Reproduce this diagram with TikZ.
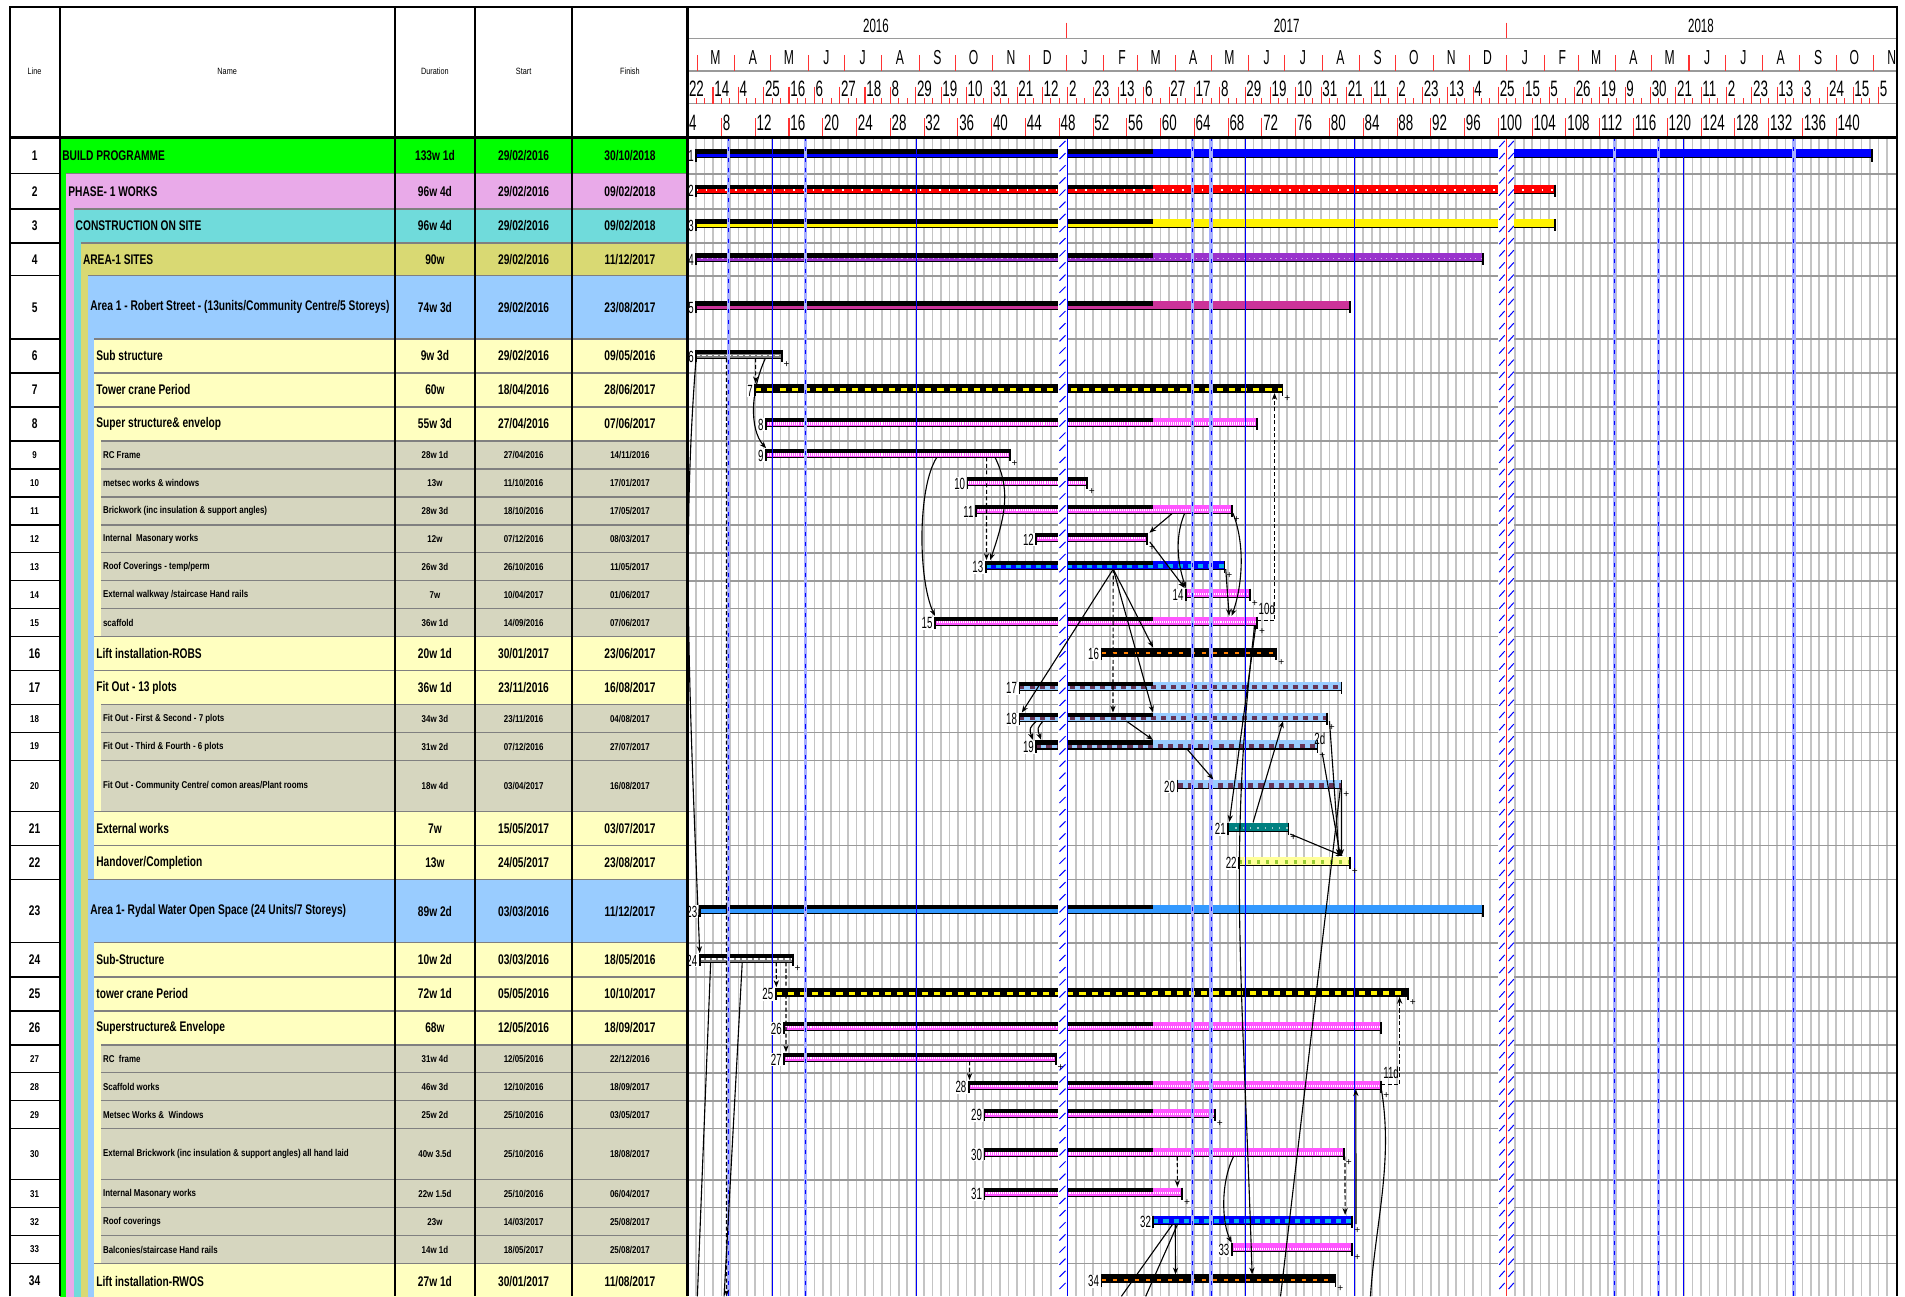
\documentclass[tikz,border=0pt]{standalone}
\usepackage{fontspec}
\setmainfont{Liberation Sans}
\newfontfamily\tblfont{Liberation Sans}[FakeStretch=0.8]
\newfontfamily\rowfont{Liberation Sans}[FakeStretch=0.73]
\newfontfamily\chfont{Liberation Sans}[FakeStretch=0.6]
\usetikzlibrary{arrows.meta,calc}

\definecolor{lv0}{HTML}{00FF00}
\definecolor{lv1}{HTML}{E9AAE9}
\definecolor{lv2}{HTML}{70DBDB}
\definecolor{lv3}{HTML}{D9D973}
\definecolor{lv4}{HTML}{99CCFF}
\definecolor{lv5}{HTML}{FFFFC0}
\definecolor{lv6}{HTML}{D6D6BF}
\definecolor{holblue}{HTML}{A8B0FF}
\definecolor{gridgray}{HTML}{C4C4C4}
\definecolor{rowgray}{HTML}{9A9A9A}
\definecolor{tickred}{HTML}{FF3333}
\definecolor{purplebar}{HTML}{9933CC}
\definecolor{magbar}{HTML}{CC3399}
\definecolor{pinkbar}{HTML}{FF55FF}
\definecolor{fitblue}{HTML}{99CCFF}
\definecolor{fitdark}{HTML}{663355}
\definecolor{areablue}{HTML}{3399FF}
\definecolor{handyel}{HTML}{FFFF99}
\definecolor{handgrn}{HTML}{99CC33}

% indents of the outline levels in the Name column
\def\indarr{{49.5,54.5,60.5,66.5,72.5,77.5,83}}

% table row: number, top, bottom, level, name, duration, start, finish
\newcommand\trow[8]{%
  \pgfmathsetmacro\rowc{(#2+#3)/2}%
  \foreach \k in {0,...,5}{%
    \ifnum\k<#4\relax
      \pgfmathsetmacro\stripa{\indarr[\k]}%
      \pgfmathsetmacro\stripb{\indarr[\k+1]}%
      \fill[fill=lv\k] (\stripa,#2) rectangle (\stripb,#3);%
    \fi}%
  \pgfmathsetmacro\rowx{\indarr[#4]}%
  \fill[fill=lv#4] (\rowx,#2) rectangle (566,#3);%
  \draw[rowsep] (\rowx,#2) -- (566,#2);%
  \draw[linesep] (8,#2) -- (49.5,#2);%
  \ifnum#4=6 \tikzset{curtxt/.style={subtxt}}\else\tikzset{curtxt/.style={rowtxt}}\fi
  \node[curtxt] (ln#1) at (28.5,\rowc) {#1};%
  \node[curtxt,anchor=west] (nm#1) at (\rowx+1.5,\rowc) {#5};%
  \node[curtxt] (du#1) at (358,\rowc) {#6};%
  \node[curtxt] (st#1) at (431,\rowc) {#7};%
  \node[curtxt] (fi#1) at (518.5,\rowc) {#8};%
}

% gantt bar: id, y, start day, end day, fill, overlay
\newcommand\gbar[6]{%
  \pgfmathsetmacro\bxa{566+0.993*#3}%
  \pgfmathsetmacro\bxb{566+0.993*#4}%
  \pgfmathsetmacro\bxp{max(\bxa,min(\bxb,949))}%
  \coordinate (s#1) at (\bxa,#2);%
  \coordinate (e#1) at (\bxb,#2);%
  \fill[#5] (\bxa,#2-3.5) rectangle (\bxb,#2+3.5);%
  \draw[#6] (\bxa,#2+1) -- (\bxb,#2+1);%
  \fill[black] (\bxa,#2-3.5) rectangle (\bxp,#2);%
  \draw[barline] (\bxa,#2+3.5) -- (\bxb,#2+3.5);%
  \draw[barcap] (\bxa,#2-3.5) -- (\bxa,#2+6.5);%
  \draw[barcap] (\bxb,#2-3.5) -- (\bxb,#2+6.5);%
}

\begin{document}
\begin{tikzpicture}[x=0.6pt,y=-0.6pt,
    rowtxt/.style={font=\rowfont\bfseries\fontsize{6.9}{7.5}\selectfont,inner sep=0pt},
    subtxt/.style={font=\tblfont\bfseries\fontsize{4.9}{5.5}\selectfont,inner sep=0pt},
    headtxt/.style={font=\tblfont\fontsize{4.5}{5}\selectfont,inner sep=0pt},
    rowsep/.style={draw=gray,line width=0.7pt},
    linesep/.style={draw=black,line width=0.7pt},
    colline/.style={draw=black,line width=0.8pt},
    wkline/.style={draw=gridgray,line width=0.8pt},
    rowline/.style={draw=rowgray,line width=0.8pt},
    rtick/.style={draw=tickred,line width=0.5pt},
    yr/.style={font=\chfont\fontsize{9.5}{9.5}\selectfont,inner sep=0pt},
    mon/.style={font=\chfont\fontsize{10}{10}\selectfont,inner sep=0pt},
    dat/.style={font=\chfont\fontsize{11}{11}\selectfont,inner sep=0.3pt,anchor=west},
    barline/.style={draw=black,line width=0.5pt},
    barcap/.style={draw=black,line width=0.9pt},
    barnum/.style={font=\chfont\fontsize{8}{8}\selectfont,fill=white,inner sep=0.4pt,anchor=east},
    plus/.style={font=\fontsize{5}{5}\selectfont,inner sep=0pt},
    lag/.style={font=\chfont\fontsize{8}{8}\selectfont,inner sep=0pt},
    hol/.style={draw=blue,line width=0.45pt},
    holbg/.style={draw=holblue,line width=1.8pt},
    holdash/.style={draw=blue,line width=0.6pt,dash pattern=on 2pt off 3pt},
    hatch/.style={draw=blue,line width=0.5pt},
    ovnone/.style={draw=none},
    ovred/.style={draw=white,line width=0.7pt,dash pattern=on 0.8pt off 4pt},
    ovpurp/.style={draw=white!60!purplebar,line width=0.7pt,dash pattern=on 0.6pt off 2pt},
    ovyel/.style={draw=yellow,line width=1.8pt,dash pattern=on 3pt off 3pt},
    ovpink/.style={draw=white,line width=1.2pt,dash pattern=on 0.5pt off 0.5pt},
    ovcyan/.style={draw=cyan,line width=1.8pt,dash pattern=on 2.5pt off 2.5pt},
    ovorange/.style={draw=orange,line width=1.4pt,dash pattern=on 2pt off 3.5pt},
    ovfit/.style={draw=fitdark,line width=2.4pt,dash pattern=on 2.5pt off 2.5pt},
    ovteal/.style={draw=white!60!teal,line width=0.9pt,dash pattern=on 0.6pt off 3pt},
    ovhand/.style={draw=handgrn,line width=1.8pt,dash pattern=on 1.5pt off 3pt},
    ovgray/.style={draw=white,line width=0.7pt,dash pattern=on 2pt off 1pt},
    link/.style={-{Stealth[length=3.4pt,width=2.6pt]},line width=0.55pt},
    dlink/.style={link,dash pattern=on 2pt off 1.2pt},
    pline/.style={line width=0.55pt}
]
    \useasboundingbox (0,0) rectangle (1568,1067);
    \fill[white] (0,0) rectangle (1568,1067);

    % table rows
    \trow{1}{113}{143}{0}{BUILD PROGRAMME}{133w 1d}{29/02/2016}{30/10/2018}
    \trow{2}{143}{172}{1}{PHASE- 1 WORKS}{96w 4d}{29/02/2016}{09/02/2018}
    \trow{3}{172}{200}{2}{CONSTRUCTION ON SITE}{96w 4d}{29/02/2016}{09/02/2018}
    \trow{4}{200}{227}{3}{AREA-1 SITES}{90w}{29/02/2016}{11/12/2017}
    \trow{5}{227}{279}{4}{Area 1 - Robert Street - (13units/Community Centre/5 Storeys)}{74w 3d}{29/02/2016}{23/08/2017}
    \trow{6}{279}{307}{5}{Sub structure}{9w 3d}{29/02/2016}{09/05/2016}
    \trow{7}{307}{335}{5}{Tower crane Period}{60w}{18/04/2016}{28/06/2017}
    \trow{8}{335}{363}{5}{Super structure\& envelop}{55w 3d}{27/04/2016}{07/06/2017}
    \trow{9}{363}{386}{6}{RC Frame}{28w 1d}{27/04/2016}{14/11/2016}
    \trow{10}{386}{409}{6}{metsec works \& windows}{13w}{11/10/2016}{17/01/2017}
    \trow{11}{409}{432}{6}{Brickwork (inc insulation \& support angles)}{28w 3d}{18/10/2016}{17/05/2017}
    \trow{12}{432}{455}{6}{Internal~ Masonary works}{12w}{07/12/2016}{08/03/2017}
    \trow{13}{455}{478}{6}{Roof Coverings - temp/perm}{26w 3d}{26/10/2016}{11/05/2017}
    \trow{14}{478}{501}{6}{External walkway /staircase Hand rails}{7w}{10/04/2017}{01/06/2017}
    \trow{15}{501}{524}{6}{scaffold}{36w 1d}{14/09/2016}{07/06/2017}
    \trow{16}{524}{552}{5}{Lift installation-ROBS}{20w 1d}{30/01/2017}{23/06/2017}
    \trow{17}{552}{580}{5}{Fit Out - 13 plots}{36w 1d}{23/11/2016}{16/08/2017}
    \trow{18}{580}{603}{6}{Fit Out - First \& Second - 7 plots}{34w 3d}{23/11/2016}{04/08/2017}
    \trow{19}{603}{626}{6}{Fit Out - Third \& Fourth - 6 plots}{31w 2d}{07/12/2016}{27/07/2017}
    \trow{20}{626}{668}{6}{Fit Out - Community Centre/ comon areas/Plant rooms}{18w 4d}{03/04/2017}{16/08/2017}
    \trow{21}{668}{696}{5}{External works}{7w}{15/05/2017}{03/07/2017}
    \trow{22}{696}{724}{5}{Handover/Completion}{13w}{24/05/2017}{23/08/2017}
    \trow{23}{724}{776}{4}{Area 1- Rydal Water Open Space (24 Units/7 Storeys)}{89w 2d}{03/03/2016}{11/12/2017}
    \trow{24}{776}{804}{5}{Sub-Structure}{10w 2d}{03/03/2016}{18/05/2016}
    \trow{25}{804}{832}{5}{tower crane Period}{72w 1d}{05/05/2016}{10/10/2017}
    \trow{26}{832}{860}{5}{Superstructure\& Envelope}{68w}{12/05/2016}{18/09/2017}
    \trow{27}{860}{883}{6}{RC~ frame}{31w 4d}{12/05/2016}{22/12/2016}
    \trow{28}{883}{906}{6}{Scaffold works}{46w 3d}{12/10/2016}{18/09/2017}
    \trow{29}{906}{929}{6}{Metsec Works \&~ Windows}{25w 2d}{25/10/2016}{03/05/2017}
    \trow{30}{929}{971}{6}{External Brickwork (inc insulation \& support angles) all hand laid}{40w 3.5d}{25/10/2016}{18/08/2017}
    \trow{31}{971}{994}{6}{Internal Masonary works}{22w 1.5d}{25/10/2016}{06/04/2017}
    \trow{32}{994}{1017}{6}{Roof coverings}{23w}{14/03/2017}{25/08/2017}
    \trow{33}{1017}{1040}{6}{Balconies/staircase Hand rails}{14w 1d}{18/05/2017}{25/08/2017}
    \trow{34}{1040}{1069}{5}{Lift installation-RWOS}{27w 1d}{30/01/2017}{11/08/2017}

    % chart grid
    \foreach \k in {0,...,142}
        \draw[wkline] ({566+6.951*\k},113) -- ++(0,954);
    \foreach \y in {143,172,200,227,279,307,335,363,386,409,432,455,478,501,524,552,580,603,626,668,696,724,776,804,832,860,883,906,929,971,994,1017,1040}
        \draw[rowline] (566,\y) -- (1561,\y);

    % bars
    \gbar{1}{126.5}{7}{982}{fill=blue}{ovnone}
    \gbar{2}{155.5}{7}{719}{fill=red}{ovred}
    \gbar{3}{184}{7}{719}{fill=yellow}{ovnone}
    \gbar{4}{212}{7}{659}{fill=purplebar}{ovpurp}
    \gbar{5}{251.5}{7}{549}{fill=magbar}{ovnone}
    \gbar{6}{291.5}{7}{78}{fill=gray}{ovgray}
    \gbar{7}{319.5}{56}{493}{fill=black}{ovyel}
    \gbar{8}{347.5}{65}{472}{fill=pinkbar}{ovpink}
    \gbar{9}{373}{65}{267}{fill=pinkbar}{ovpink}
    \gbar{10}{396}{232}{331}{fill=pinkbar}{ovpink}
    \gbar{11}{419}{239}{451}{fill=pinkbar}{ovpink}
    \gbar{12}{442}{289}{381}{fill=pinkbar}{ovpink}
    \gbar{13}{465}{247}{445}{fill=blue}{ovcyan}
    \gbar{14}{488}{413}{466}{fill=pinkbar}{ovpink}
    \gbar{15}{511}{205}{472}{fill=pinkbar}{ovpink}
    \gbar{16}{536.5}{343}{488}{fill=black}{ovorange}
    \gbar{17}{564.5}{275}{542}{fill=fitblue}{ovfit}
    \gbar{18}{590}{275}{530}{fill=fitblue}{ovfit}
    \gbar{19}{613}{289}{522}{fill=fitblue}{ovfit}
    \gbar{20}{645.5}{406}{542}{fill=fitblue}{ovfit}
    \gbar{21}{680.5}{448}{498}{fill=teal}{ovteal}
    \gbar{22}{708.5}{457}{549}{fill=handyel}{ovhand}
    \gbar{23}{748.5}{10}{659}{fill=areablue}{ovnone}
    \gbar{24}{788.5}{10}{87}{fill=gray}{ovgray}
    \gbar{25}{816.5}{73}{597}{fill=black}{ovyel}
    \gbar{26}{844.5}{80}{575}{fill=pinkbar}{ovpink}
    \gbar{27}{870}{80}{305}{fill=pinkbar}{ovpink}
    \gbar{28}{893}{233}{575}{fill=pinkbar}{ovpink}
    \gbar{29}{916}{246}{437}{fill=pinkbar}{ovpink}
    \gbar{30}{948.5}{246}{544}{fill=pinkbar}{ovpink}
    \gbar{31}{981}{246}{410}{fill=pinkbar}{ovpink}
    \gbar{32}{1004}{386}{551}{fill=blue}{ovcyan}
    \gbar{33}{1027}{451}{551}{fill=pinkbar}{ovpink}
    \gbar{34}{1052.5}{343}{537}{fill=black}{ovorange}

    % bank holidays
    \foreach \x in {635.5,754,1025,1115,1386}
        \draw[hol] (\x,113) -- (\x,1067);
    \foreach \x in {599.5,663,981.5,997,1329,1365,1476.5}{
        \draw[holbg] (\x,113) -- (\x,1067);
        \draw[holdash] (\x,113) -- (\x,1067);
    }
    % christmas shutdowns
    \fill[white] (871,113) rectangle (879,1067);
    \fill[white] (1233,113) rectangle (1246,1067);
    \foreach \y in {118,128,...,1060}{
        \draw[hatch] (872,\y+3) -- (877,\y-2);
        \draw[hatch] (1234,\y+3) -- (1238.5,\y-2);
        \draw[hatch] (1241.5,\y+3) -- (1246,\y-2);
    }
    \draw[hol] (879,113) -- (879,1067);
    \draw[rtick] (1240,113) -- (1240,1067);

    % free ends at the bottom edge
    \coordinate (bot1) at (598,1067);
    \coordinate (bot2) at (1054,1067);
    \coordinate (bot3) at (574,1067);
    \coordinate (bot4) at (596,1067);
    \coordinate (bot5) at (923,1067);
    \coordinate (bot6) at (943,1067);
    \coordinate (bot7) at (1128,1067);

    % links, Robert Street
    \draw[dlink] ($(s6)+(49,3.5)$) -- ($(s7)+(0.4,-4)$);
    \draw[link] ($(s6)+(57,3.5)$) .. controls +(-12,26) and +(-14,-16) .. ($(s9)+(0,-4)$);
    \draw[link] ($(s6)+(0,3.5)$) .. controls +(-12,150) and +(-8,-200) .. ($(s24)+(0,-4)$);
    \draw[dlink] ($(s6)+(25,3.5)$) -- (bot1);
    \draw[dlink] ($(s9)+(181.5,3.5)$) -- ($(s13)+(0.7,-4)$);
    \draw[link] ($(s9)+(188.5,3.5)$) .. controls +(12,25) and +(14,-40) .. ($(s13)+(3.7,-4)$);
    \draw[link] ($(s9)+(140.5,3.5)$) .. controls +(-16,25) and +(-14,-30) .. ($(s15)+(0,-4)$);
    \draw[link] ($(s11)+(161.7,3.5)$) -- ($(e12)+(1.7,-3.5)$);
    \draw[link] ($(s11)+(171.7,3.5)$) .. controls +(-9,22) and +(-6,-18) .. ($(s14)+(0,-4)$);
    \draw[link] ($(e11)+(1,3.5)$) .. controls +(11,28) and +(8,-22) .. ($(e15)+(-21,-4)$);
    \draw[link] ($(e13)+(1,3.5)$) -- ($(e15)+(-23,-4)$);
    \draw[link] ($(e12)+(2,4)$) -- ($(s14)+(-1,-4)$);
    \coordinate (fan13) at ($(s13)+(105,3.5)$);
    \draw[link] (fan13) -- ($(s18)+(2,-3.5)$);
    \draw[dlink] (fan13) -- ($(s18)+(77,-3.5)$);
    \draw[link] (fan13) -- ($(s16)+(42.5,-3.5)$);
    \draw[link] (fan13) -- ($(s18)+(110,-3.5)$);
    \draw[dlink] (e15) -| ($(e7)+(-6.5,4)$);
    \draw[link] ($(e15)+(-1,3.5)$) -- ($(s21)+(1,-4)$);
    \draw[link] ($(e15)+(-2,3.5)$) .. controls +(-22,190) and +(-8,-250) .. ($(s34)+(124,-3.5)$);
    \draw[link] ($(s18)+(14,3.5)$) .. controls +(-6,6) .. ($(s19)+(-3,-4)$);
    \draw[link] ($(s18)+(19.5,3.5)$) .. controls +(-5,6) .. ($(s19)+(4,-4)$);
    \draw[link] ($(s18)+(88,3.5)$) -- ($(s19)+(96,-4)$);
    \draw[link] ($(s19)+(124,3.5)$) -- ($(s20)+(29.5,-4)$);
    \draw[link] ($(s21)+(20.5,-3.5)$) -- ($(s18)+(217,3.5)$);
    \draw[link] ($(e21)+(1.5,6)$) -- ($(e22)+(-6,-4)$);
    \draw[link] ($(e19)+(4,7)$) -- ($(e22)+(-8,-4)$);
    \draw[link] ($(e18)+(2,3.5)$) -- ($(e22)+(-9,-4)$);
    \draw[link] ($(e20)+(0,3.5)$) -- ($(e22)+(-7,-4)$);
    \draw[pline] ($(e20)+(-1,3.5)$) -- (bot2);

    % links, Rydal Water
    \draw[pline] ($(s24)+(9,3.5)$) -- (bot3);
    \draw[pline] ($(s24)+(35,3.5)$) -- (bot4);
    \draw[dlink] ($(s24)+(63,3.5)$) -- ($(s25)+(0.5,-4)$);
    \draw[dlink] ($(s24)+(71,3.5)$) -- ($(s27)+(1.5,-4)$);
    \draw[dlink] ($(s27)+(152.6,3.5)$) -- ($(s28)+(0.6,-4)$);
    \draw[dlink] (e28) -| ($(e25)+(-6.8,4)$);
    \draw[dlink] ($(s30)+(158.7,3.5)$) -- ($(e31)+(-4,-4)$);
    \draw[dlink] ($(e30)+(0.8,3.5)$) -- ($(e32)+(-6,-4)$);
    \draw[link] ($(s30)+(205,3.5)$) .. controls +(-11,22) and +(-8,-16) .. ($(s33)+(0,-4)$);
    \draw[link] ($(e32)+(3,3.5)$) -- ($(e28)+(-21,3.5)$);
    \draw[link] ($(s32)+(18,3.5)$) -- ($(s34)+(61,-3.5)$);
    \draw[pline] ($(s32)+(16,3.5)$) -- (bot5);
    \draw[pline] ($(s32)+(20,3.5)$) -- (bot6);
    \draw[pline] ($(e28)+(0,3.5)$) .. controls +(10,60) and +(4,-60) .. (bot7);

    % bar numbers, lags, slack marks
    \foreach \i in {1,...,34}
        \node[barnum] (n\i) at ([shift={(-1,2)}]s\i) {\i};
    \foreach \i in {6,7,9,10,11,12,13,14,15,16,18,19,20,21,22,24,25,27,28,29,30,31,32,33,34}
        \node[plus] (p\i) at ([shift={(4,8.5)}]e\i) {+};
    \node[lag] (lag10) at ($(e15)+(8,-10)$) {10d};
    \node[lag] (lag2) at ($(e19)+(2,-5)$) {2d};
    \node[lag] (lag11) at ($(e28)+(8,-10)$) {11d};

    % timescale header
    \fill[white] (8,6) rectangle (1561,113);
    \foreach \y in {31.6,58.4,85.3}
        \draw[rowline] (566,\y) -- (1561,\y);
    \node[yr] (y2016) at (721,21) {2016};
    \node[yr] (y2017) at (1059,21) {2017};
    \node[yr] (y2018) at (1400,21) {2018};
    \foreach \d in {314,679}
        \draw[rtick] ({566+0.993*\d},18.7) -- ({566+0.993*\d},31.6);
    \foreach \d/\m in {8/M,39/A,69/M,100/J,130/J,161/A,192/S,222/O,253/N,283/D,314/J,345/F,373/M,404/A,434/M,465/J,495/J,526/A,557/S,587/O,618/N,648/D,679/J,710/F,738/M,769/A,799/M,830/J,860/J,891/A,922/S,952/O,983/N}{
        \pgfmathsetmacro\mx{566+0.993*\d}
        \draw[rtick] (\mx,45.3) -- (\mx,58.4);
        \node[mon] (mo\d) at (\mx+14.9,47.5) {\m};
    }
    \foreach \k in {0,...,141}
        \draw[rtick] ({566+6.951*\k},80.9) -- ++(0,4.4);
    \foreach \lab [count=\i from 0] in {22,14,4,25,16,6,27,18,8,29,19,10,31,21,12,2,23,13,6,27,17,8,29,19,10,31,21,11,2,23,13,4,25,15,5,26,19,9,30,21,11,2,23,13,3,24,15,5}{
        \pgfmathsetmacro\dtx{566+20.853*\i}
        \draw[rtick] (\dtx,71.3) -- (\dtx,85.3);
        \node[dat] (dt\i) at (\dtx+0.3,73) {\lab};
    }
    \foreach \w [count=\i from 0] in {4,8,...,140}{
        \pgfmathsetmacro\wkx{566+27.804*\i}
        \draw[rtick] (\wkx,97.4) -- (\wkx,112.5);
        \node[dat] (wk\w) at (\wkx+0.3,101) {\w};
    }

    % column headings
    \node[headtxt] (hline) at (28.5,59) {Line};
    \node[headtxt] (hname) at (187,59) {Name};
    \node[headtxt] (hdur) at (358,59) {Duration};
    \node[headtxt] (hstart) at (431,59) {Start};
    \node[headtxt] (hfin) at (518.5,59) {Finish};

    % frame
    \foreach \x in {49.5,325,391,471}
        \draw[colline] (\x,6) -- (\x,1067);
    \draw[line width=1.3pt] (566,6) -- (566,1067);
    \draw[line width=1.3pt] (8,113) -- (1561,113);
    \draw[line width=1pt] (8,1067) -- (8,6) -- (1561,6) -- (1561,1067);
\end{tikzpicture}
\end{document}
